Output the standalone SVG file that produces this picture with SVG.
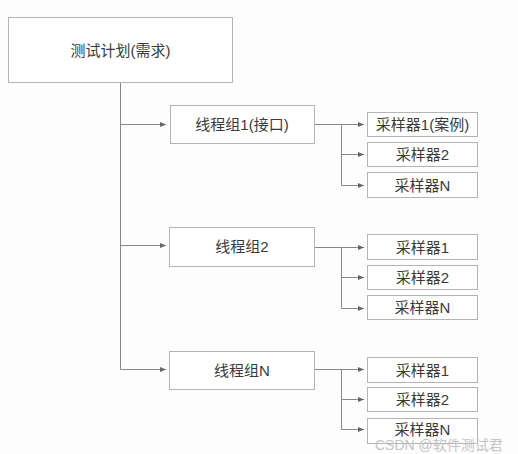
<svg xmlns="http://www.w3.org/2000/svg" width="518" height="454" viewBox="0 0 518 454">
<defs>
<marker id="ah" viewBox="0 0 6 6" refX="6" refY="3" markerWidth="6" markerHeight="6" markerUnits="userSpaceOnUse" orient="auto">
<path d="M0,0.5 L6,3 L0,5.5 Z" fill="#666"/>
</marker>
<style>
.box{fill:#fff;stroke:#b4b4b4;stroke-width:1}
.t{font-family:"Liberation Sans","Noto Sans CJK SC",sans-serif;font-size:15px;fill:#3a3a3a;text-anchor:middle;dominant-baseline:central}
.ln{fill:none;stroke:#888;stroke-width:1}
.ar{fill:none;stroke:#888;stroke-width:1;marker-end:url(#ah)}
.wm{font-family:"Liberation Sans","Noto Sans CJK SC",sans-serif;font-size:14px;fill:#c4c4c4}
</style>
</defs>
<rect width="518" height="454" fill="#fdfdfd"/>
<g id="connectors">
<path class="ln" d="M120.5,83 V369.5"/>
<path class="ar" d="M120.5,124.5 H166"/>
<path class="ar" d="M120.5,245.5 H166"/>
<path class="ar" d="M120.5,369.5 H166"/>
<path class="ln" d="M314,124.5 H341.5 V185.5"/>
<path class="ar" d="M341.5,124.5 H364"/>
<path class="ar" d="M341.5,154.5 H364"/>
<path class="ar" d="M341.5,185.5 H364"/>
<path class="ln" d="M314,247.5 H341.5 V308.5"/>
<path class="ar" d="M341.5,247.5 H364"/>
<path class="ar" d="M341.5,277.5 H364"/>
<path class="ar" d="M341.5,308.5 H364"/>
<path class="ln" d="M314,369.5 H341.5 V429.5"/>
<path class="ar" d="M341.5,369.5 H364"/>
<path class="ar" d="M341.5,399.5 H364"/>
<path class="ar" d="M341.5,429.5 H364"/>
</g>
<g id="root"><rect class="box" x="8.5" y="17.5" width="224" height="65"/><text class="t" x="120.5" y="50">测试计划(需求)</text></g>
<g id="tg1"><rect class="box" x="170.5" y="105.5" width="144" height="38"/><text class="t" x="242" y="124.5">线程组1(接口)</text></g>
<g id="tg2"><rect class="box" x="169.5" y="227.5" width="145" height="39"/><text class="t" x="242" y="246.5">线程组2</text></g>
<g id="tgN"><rect class="box" x="169.5" y="351.5" width="145" height="38"/><text class="t" x="242" y="370">线程组N</text></g>
<g id="s11"><rect class="box" x="367.5" y="112.5" width="110" height="24"/><text class="t" x="422.5" y="124.5">采样器1(案例)</text></g>
<g id="s12"><rect class="box" x="367.5" y="142.5" width="110" height="24"/><text class="t" x="422.5" y="154.5">采样器2</text></g>
<g id="s1N"><rect class="box" x="367.5" y="172.5" width="110" height="25"/><text class="t" x="422.5" y="185">采样器N</text></g>
<g id="s21"><rect class="box" x="367.5" y="234.5" width="110" height="25"/><text class="t" x="422.5" y="247">采样器1</text></g>
<g id="s22"><rect class="box" x="367.5" y="265.5" width="110" height="24"/><text class="t" x="422.5" y="277.5">采样器2</text></g>
<g id="s2N"><rect class="box" x="367.5" y="295.5" width="110" height="24"/><text class="t" x="422.5" y="307.5">采样器N</text></g>
<g id="sN1"><rect class="box" x="367.5" y="357.5" width="110" height="25"/><text class="t" x="422.5" y="370">采样器1</text></g>
<g id="sN2"><rect class="box" x="367.5" y="387.5" width="110" height="24"/><text class="t" x="422.5" y="399.5">采样器2</text></g>
<g id="sNN"><rect class="box" x="367.5" y="418.5" width="110" height="25"/><text class="t" x="422.5" y="429">采样器N</text></g>
<text class="wm" x="375" y="450">CSDN @软件测试君</text>
</svg>
